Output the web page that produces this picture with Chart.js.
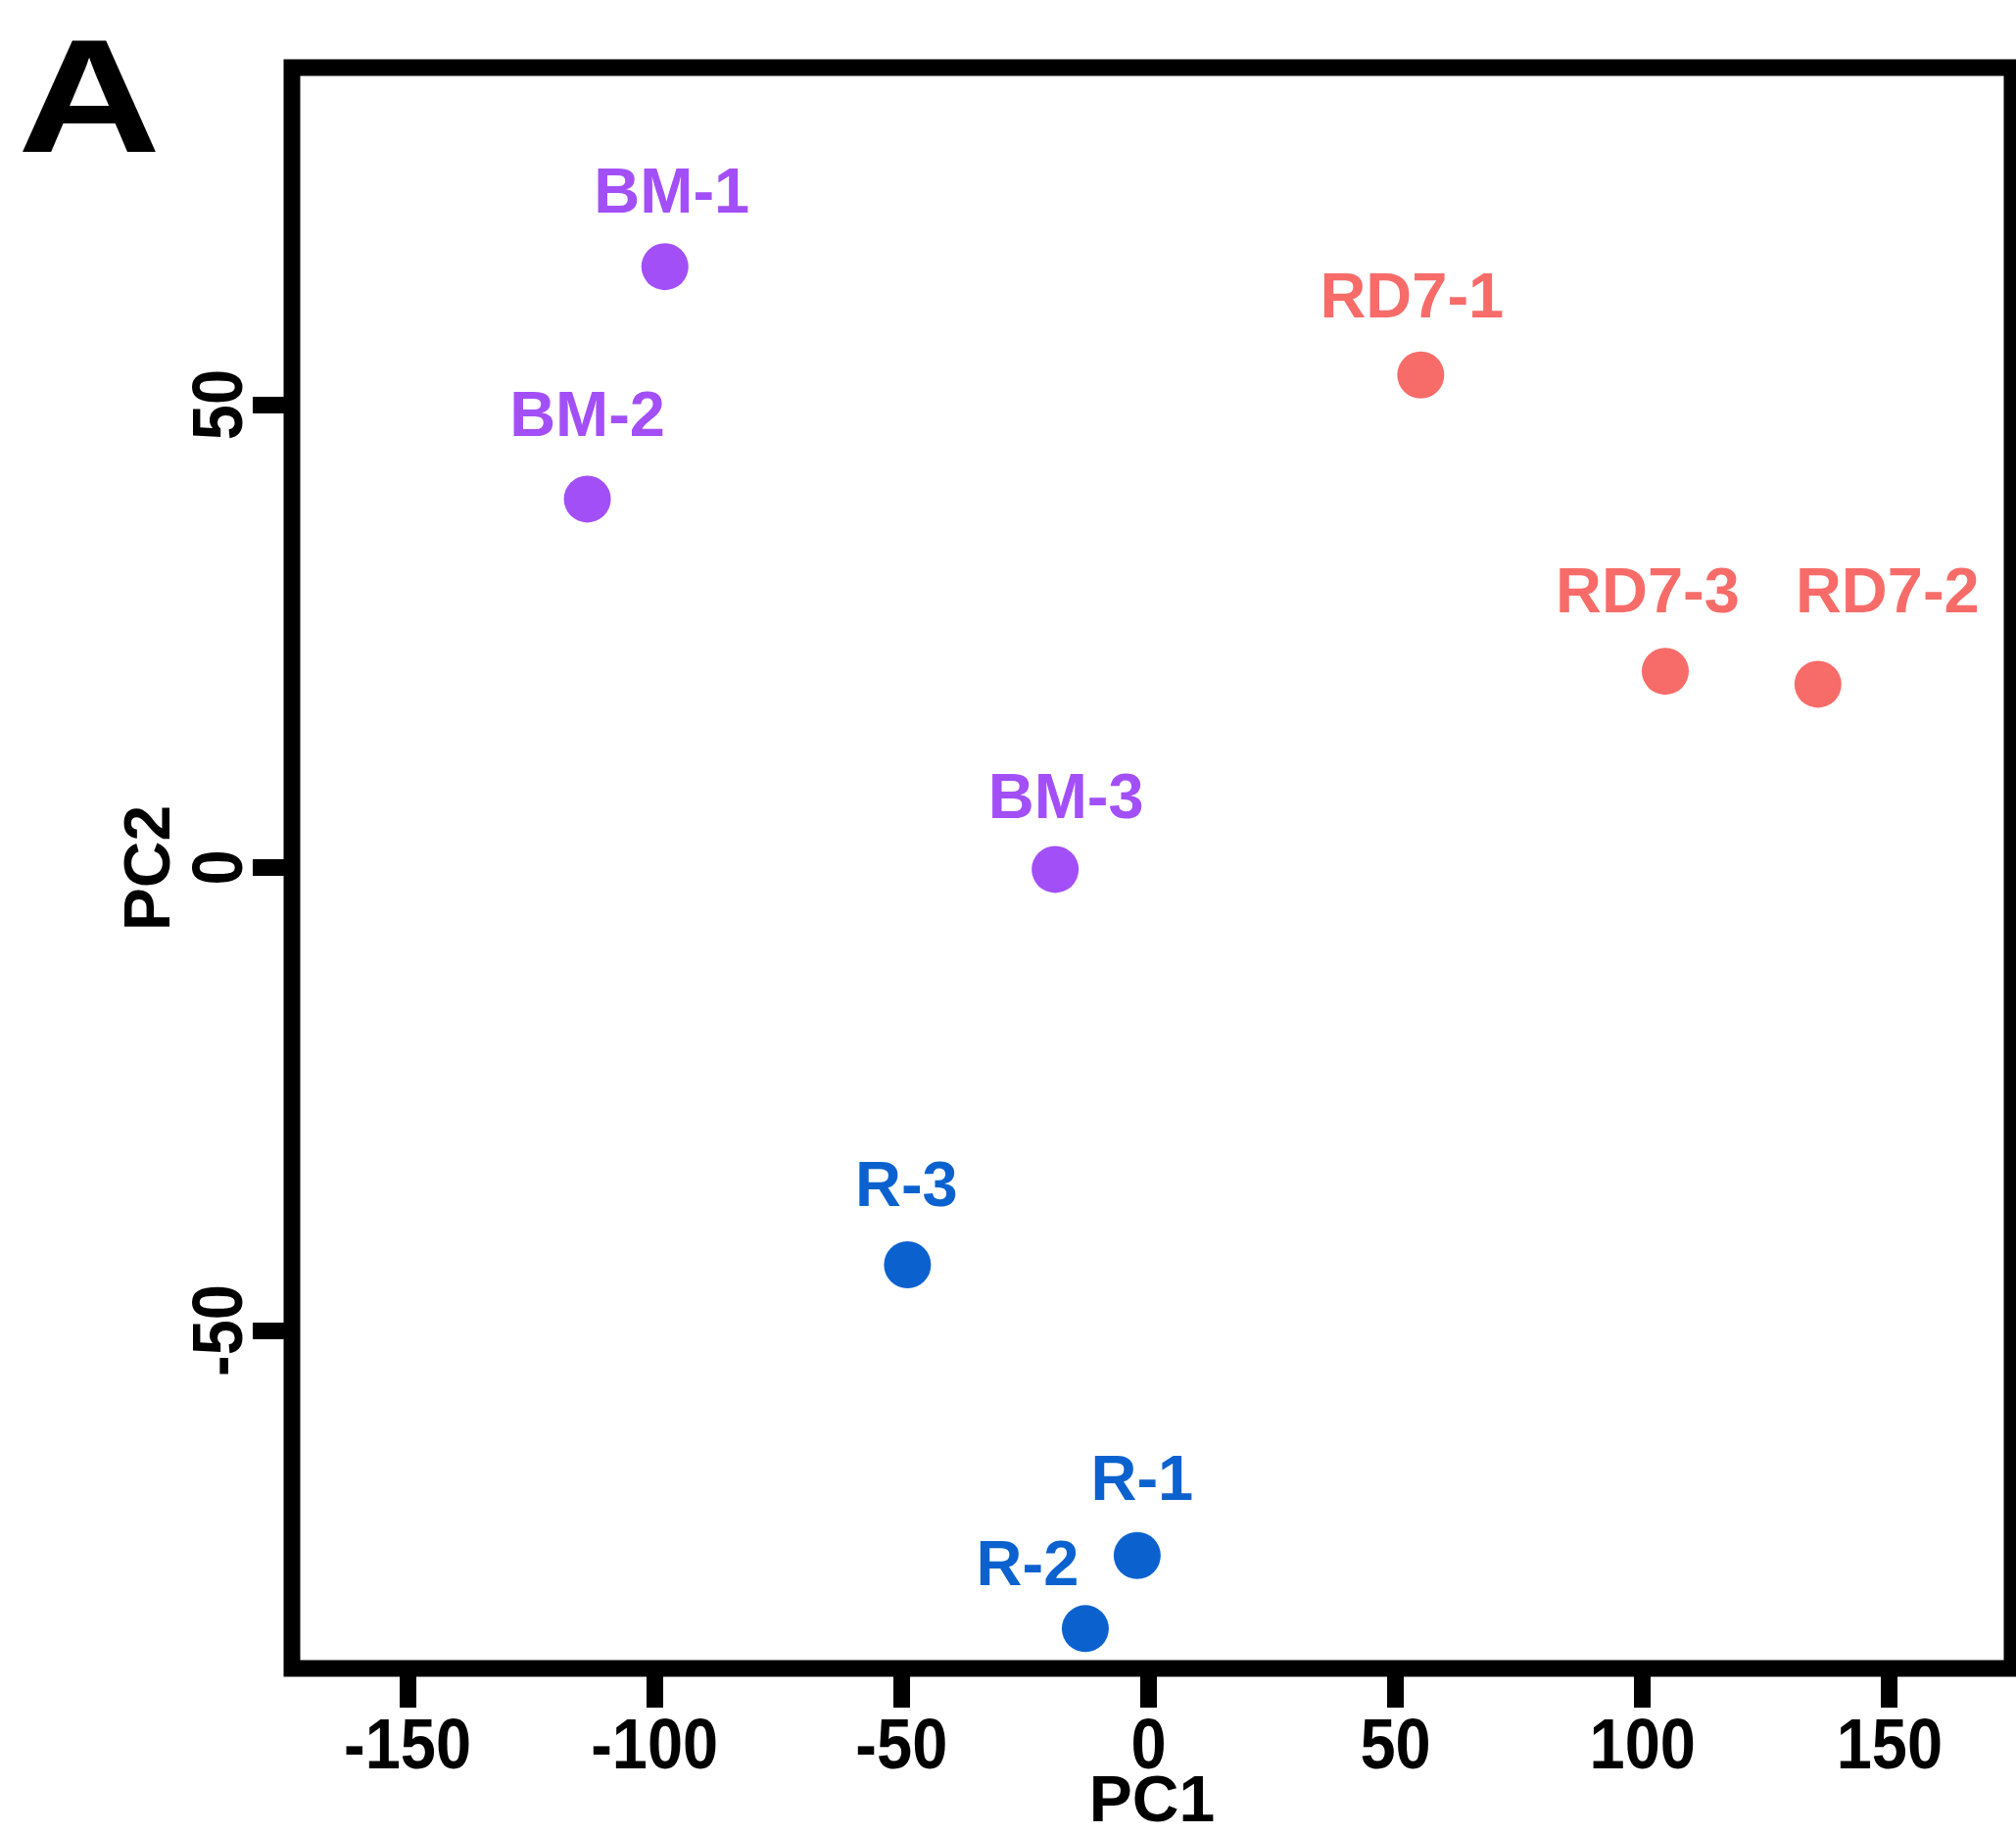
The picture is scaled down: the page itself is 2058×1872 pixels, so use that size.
<!DOCTYPE html>
<html>
<head>
<meta charset="utf-8">
<title>PCA</title>
<script src="https://cdn.jsdelivr.net/npm/chart.js@4.4.1/dist/chart.umd.min.js"></script>
<style>
  html, body { margin: 0; padding: 0; background: #fff; }
  canvas { display: block; }
</style>
</head>
<body>
<canvas id="pca-chart" width="2058" height="1872"></canvas>
<script>
// sample groups
const bmLabels = ['BM-1', 'BM-2', 'BM-3'];
const bmPC1 = [-97.9, -113.6, -18.9];
const bmPC2 = [64.9, 39.8, -0.2];

const rd7Labels = ['RD7-1', 'RD7-2', 'RD7-3'];
const rd7PC1 = [55.1, 135.5, 104.6];
const rd7PC2 = [53.2, 19.8, 21.2];

const rLabels = ['R-1', 'R-2', 'R-3'];
const rPC1 = [-2.3, -12.8, -48.8];
const rPC2 = [-74.3, -82.2, -42.9];

const xTicks = [-150, -100, -50, 0, 50, 100, 150];
const yTicks = [-50, 0, 50];

const FONT = '"Liberation Sans", Arial, Helvetica, sans-serif';

// label nudges relative to the dot centre (px)
const labelNudge = {
  'BM-1': [7, -55], 'BM-2': [0, -64], 'BM-3': [11, -52],
  'RD7-1': [-9, -59], 'RD7-2': [71, -73], 'RD7-3': [-18, -60],
  'R-1': [5, -57], 'R-2': [-59, -44], 'R-3': [-1, -60]
};

const toPoints = (xs, ys, names) => xs.map((x, i) => ({ x: x, y: ys[i], name: names[i] }));

const pointLabels = {
  id: 'pointLabels',
  afterDatasetsDraw(chart) {
    const ctx = chart.ctx;
    ctx.save();
    ctx.font = 'bold 65px ' + FONT;
    ctx.textAlign = 'center';
    ctx.textBaseline = 'alphabetic';
    chart.data.datasets.forEach((ds, di) => {
      const meta = chart.getDatasetMeta(di);
      ctx.fillStyle = ds.backgroundColor;
      meta.data.forEach((el, i) => {
        const name = ds.data[i].name;
        const n = labelNudge[name] || [0, -56];
        ctx.fillText(name, el.x + n[0], el.y + n[1]);
      });
    });
    ctx.restore();
  }
};

// tick labels in a slightly condensed bold face, placed from the scales' own ticks
const narrowTicks = {
  id: 'narrowTicks',
  afterDraw(chart) {
    const { ctx, scales } = chart;
    ctx.save();
    ctx.fillStyle = '#000';
    ctx.font = 'bold 73px ' + FONT;
    ctx.textAlign = 'center';
    ctx.textBaseline = 'alphabetic';
    scales.x.ticks.forEach(t => {
      ctx.save();
      ctx.translate(scales.x.getPixelForValue(t.value), scales.x.top + 102);
      ctx.scale(0.89, 1);
      ctx.fillText(String(t.value), 0, 0);
      ctx.restore();
    });
    scales.y.ticks.forEach(t => {
      ctx.save();
      ctx.translate(scales.y.right - 51, scales.y.getPixelForValue(t.value));
      ctx.rotate(-Math.PI / 2);
      ctx.scale(0.89, 1);
      ctx.fillText(String(t.value), 0, 0);
      ctx.restore();
    });
    ctx.restore();
  }
};

const frame = {
  id: 'frame',
  afterDraw(chart) {
    const { ctx, chartArea: a } = chart;
    ctx.save();
    ctx.lineWidth = 17;
    ctx.strokeStyle = '#000';
    ctx.strokeRect(a.left, a.top, a.right - a.left, a.bottom - a.top);
    // panel letter
    ctx.fillStyle = '#000';
    ctx.font = 'bold 166px ' + FONT;
    ctx.textBaseline = 'alphabetic';
    ctx.textAlign = 'left';
    ctx.translate(18, 155);
    ctx.scale(1.22, 1);
    ctx.fillText('A', 0, 0);
    ctx.restore();
  }
};

const ctx = document.getElementById('pca-chart').getContext('2d');
const chart = new Chart(ctx, {
  type: 'scatter',
  data: {
    datasets: [
      { label: 'BM', data: toPoints(bmPC1, bmPC2, bmLabels), backgroundColor: '#A34FF7' },
      { label: 'RD7', data: toPoints(rd7PC1, rd7PC2, rd7Labels), backgroundColor: '#F76C69' },
      { label: 'R', data: toPoints(rPC1, rPC2, rLabels), backgroundColor: '#0B62CF' }
    ]
  },
  options: {
    responsive: false,
    animation: false,
    events: [],
    layout: { autoPadding: false, padding: { top: 69, right: 4, bottom: 0, left: 0 } },
    elements: { point: { radius: 24, borderWidth: 0, hoverRadius: 24 } },
    plugins: { legend: { display: false }, tooltip: { enabled: false } },
    scales: {
      x: {
        type: 'linear',
        min: -173.4,
        max: 174.8,
        afterFit: (s) => { s.height = 169; },
        afterBuildTicks: (s) => { s.ticks = xTicks.map(v => ({ value: v })); },
        ticks: { display: false, includeBounds: false },
        grid: { drawOnChartArea: false, drawTicks: true, tickLength: 40, tickWidth: 17, tickColor: '#000' },
        border: { display: false },
        title: {
          display: true,
          text: 'PC1',
          color: '#000',
          padding: { top: 0, bottom: -8 },
          font: { family: FONT, size: 66, weight: 'bold' }
        }
      },
      y: {
        type: 'linear',
        min: -86.5,
        max: 86.4,
        afterFit: (s) => { s.width = 298; },
        afterBuildTicks: (s) => { s.ticks = yTicks.map(v => ({ value: v })); },
        ticks: { display: false, includeBounds: false },
        grid: { drawOnChartArea: false, drawTicks: true, tickLength: 40, tickWidth: 17, tickColor: '#000' },
        border: { display: false },
        title: {
          display: true,
          text: 'PC2',
          color: '#000',
          padding: { top: 115, bottom: 0 },
          font: { family: FONT, size: 66, weight: 'bold' }
        }
      }
    }
  },
  plugins: [pointLabels, narrowTicks, frame]
});
</script>
</body>
</html>
